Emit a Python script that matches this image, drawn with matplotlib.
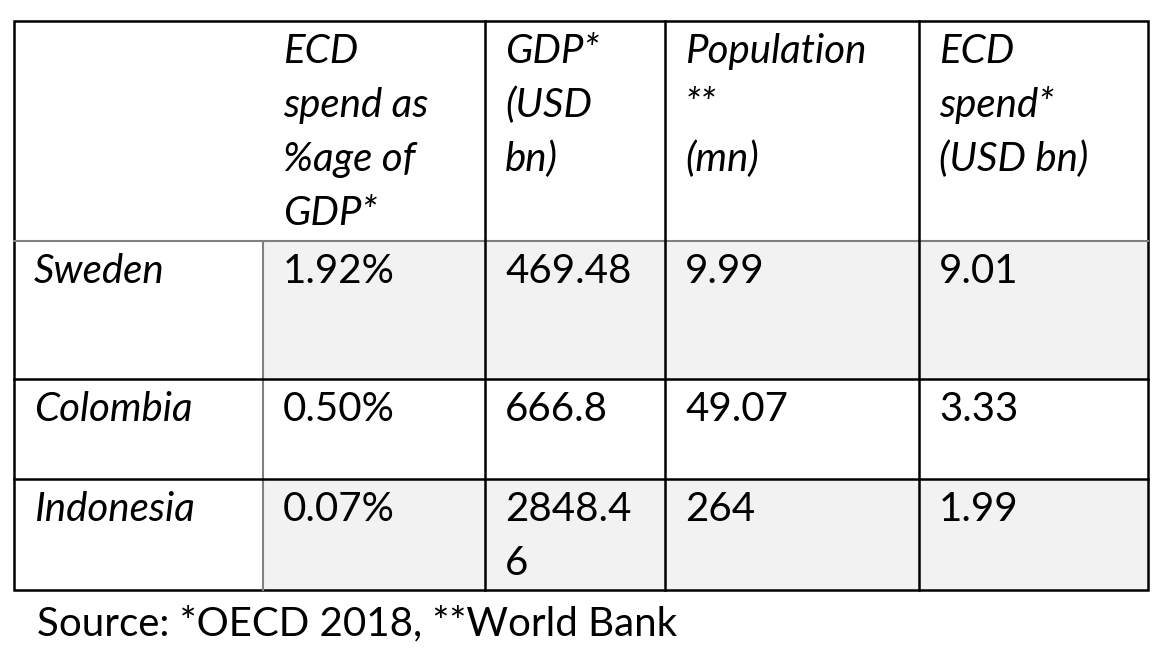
import matplotlib.pyplot as plt
from matplotlib.patches import Rectangle

# table content
headers = [
    [],
    ["ECD", "spend as", "%age of", "GDP*"],
    ["GDP*", "(USD", "bn)"],
    ["Population", "**", "(mn)"],
    ["ECD", "spend*", "(USD bn)"],
]
countries = ["Sweden", "Colombia", "Indonesia"]
ecd_pct = ["1.92%", "0.50%", "0.07%"]
gdp = ["469.48", "666.8", "2848.4\n6"]
population = ["9.99", "49.07", "264"]
ecd_spend = ["9.01", "3.33", "1.99"]
source = "Source: *OECD 2018, **World Bank"

# layout in pixels
col_edges = [14, 263, 485, 665, 919, 1148]
row_edges = [21, 241, 379, 479, 590]
shaded_rows = [0, 2]
pad_x = 20
line_h = 54
fs = 29
font = "Lato"

fig = plt.figure(figsize=(11.76, 6.52), dpi=100)
ax = fig.add_axes([0, 0, 1, 1])
ax.set_xlim(0, 1176)
ax.set_ylim(652, 0)
ax.axis("off")

# shading
for r in shaded_rows:
    y0, y1 = row_edges[r + 1], row_edges[r + 2]
    ax.add_patch(Rectangle((col_edges[1], y0), col_edges[-1] - col_edges[1], y1 - y0,
                           facecolor="#f2f2f2", edgecolor="none"))

black = dict(color="black", lw=1.8, solid_capstyle="projecting")
gray = dict(color="#808080", lw=1.5)

# grid lines
ax.plot([col_edges[0], col_edges[-1]], [row_edges[1], row_edges[1]], **gray)
ax.plot([col_edges[1], col_edges[1]], [row_edges[1], row_edges[-1]], **gray)
for x in col_edges[2:-1]:
    ax.plot([x, x], [row_edges[0], row_edges[-1]], **black)
for y in row_edges[2:-1]:
    ax.plot([col_edges[0], col_edges[-1]], [y, y], **black)
ax.add_patch(Rectangle((col_edges[0], row_edges[0]), col_edges[-1] - col_edges[0],
                       row_edges[-1] - row_edges[0], fill=False, edgecolor="black", lw=1.8))

# header text
for c, lines in enumerate(headers):
    for i, s in enumerate(lines):
        ax.text(col_edges[c] + pad_x, row_edges[0] + 42 + i * line_h, s,
                fontsize=fs, family=font, style="italic", va="baseline", ha="left")

# body text
columns = [countries, ecd_pct, gdp, population, ecd_spend]
for r in range(len(countries)):
    for c, col in enumerate(columns):
        for i, s in enumerate(col[r].split("\n")):
            ax.text(col_edges[c] + pad_x, row_edges[r + 1] + 42 + i * line_h, s,
                    fontsize=fs, family=font, style="italic" if c == 0 else "normal",
                    va="baseline", ha="left")

ax.text(37, 635, source, fontsize=fs, family=font, va="baseline", ha="left")

fig.savefig("out.png", dpi=100)
